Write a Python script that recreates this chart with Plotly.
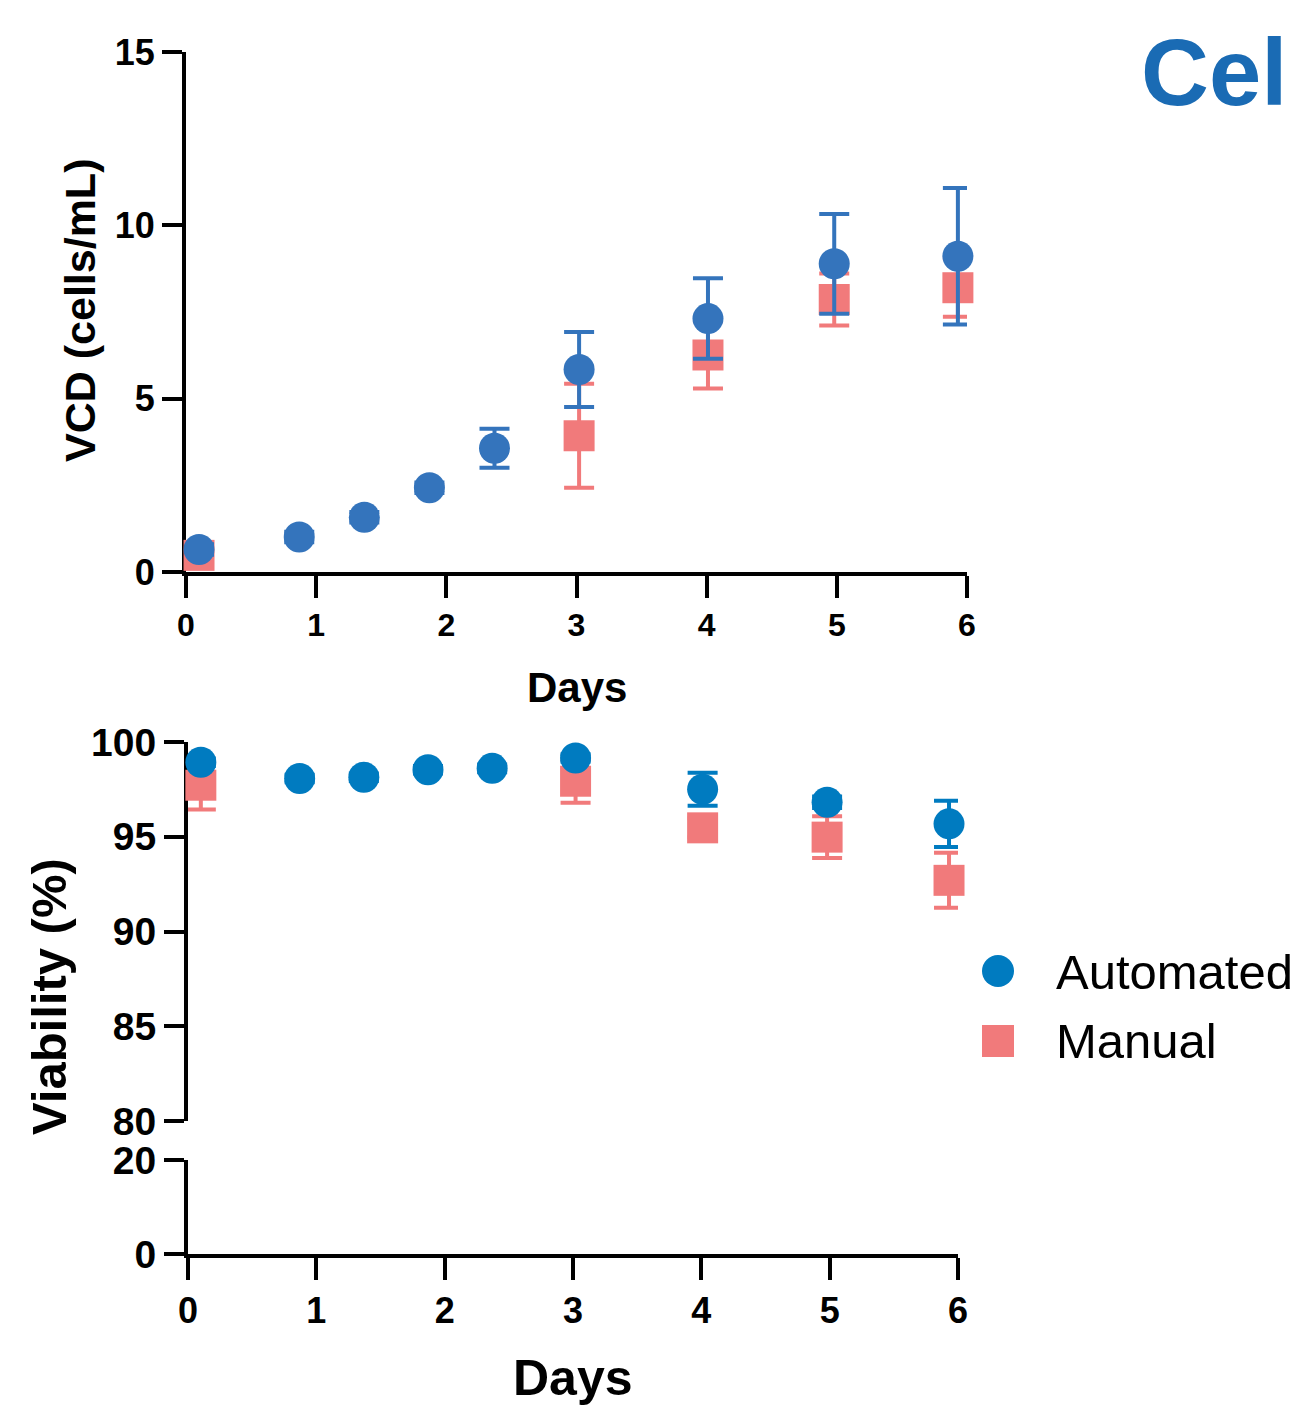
import plotly.graph_objects as go

W, H = 1294, 1412

# ---------------- data ----------------
days_auto = [0.10, 0.87, 1.37, 1.87, 2.37, 3.02, 4.01, 4.98, 5.93]
vcd_auto = [0.65, 1.01, 1.58, 2.43, 3.57, 5.84, 7.31, 8.89, 9.11]
vcd_auto_err = [0.15, 0.15, 0.15, 0.15, 0.56, 1.08, 1.16, 1.44, 1.97]

days_man = [0.10, 3.02, 4.01, 4.98, 5.93]
vcd_man = [0.48, 3.93, 6.26, 7.86, 8.20]
vcd_man_err = [0.20, 1.50, 0.97, 0.75, 0.84]

via_auto = [98.93, 98.07, 98.14, 98.54, 98.61, 99.16, 97.51, 96.82, 95.68]
via_auto_err = [0.2, 0.2, 0.2, 0.2, 0.2, 0.2, 0.87, 0.3, 1.22]
via_man = [97.72, 97.93, 95.47, 94.98, 92.70]
via_man_err = [1.28, 1.14, 0.5, 1.10, 1.45]

x_ticks = [0, 1, 2, 3, 4, 5, 6]
vcd_ticks = [0, 5, 10, 15]
via_ticks_hi = [80, 85, 90, 95, 100]
via_ticks_lo = [0, 20]

BLUE_TOP = "#3474BC"
BLUE_BOT = "#007BC0"
PINK = "#F17A7B"
TITLE_BLUE = "#1A6BB4"
FONT = "Liberation Sans"


def px(x):
    return x / W


def py(y):
    return 1 - y / H


fig = go.Figure()

ERR = dict(thickness=4, width=15)

# top panel
fig.add_trace(go.Scatter(
    x=days_man, y=vcd_man, mode="markers", xaxis="x", yaxis="y",
    marker=dict(symbol="square", size=31, color=PINK),
    error_y=dict(type="data", array=vcd_man_err, color=PINK, **ERR),
    cliponaxis=False, showlegend=False))
fig.add_trace(go.Scatter(
    x=days_auto, y=vcd_auto, mode="markers", xaxis="x", yaxis="y",
    marker=dict(symbol="circle", size=31, color=BLUE_TOP),
    error_y=dict(type="data", array=vcd_auto_err, color=BLUE_TOP, **ERR),
    cliponaxis=False, showlegend=False))

# bottom panel (upper segment)
fig.add_trace(go.Scatter(
    x=days_man, y=via_man, mode="markers", xaxis="x3", yaxis="y2",
    marker=dict(symbol="square", size=31, color=PINK),
    error_y=dict(type="data", array=via_man_err, color=PINK, **ERR),
    cliponaxis=False, showlegend=False))
fig.add_trace(go.Scatter(
    x=days_auto, y=via_auto, mode="markers", xaxis="x3", yaxis="y2",
    marker=dict(symbol="circle", size=31, color=BLUE_BOT),
    error_y=dict(type="data", array=via_auto_err, color=BLUE_BOT, **ERR),
    cliponaxis=False, showlegend=False))
# bottom panel (lower segment) - empty trace to show axes
fig.add_trace(go.Scatter(x=[None], y=[None], xaxis="x2", yaxis="y3",
                         mode="markers", showlegend=False))


def ax(**kw):
    d = dict(showline=True, linewidth=4, linecolor="black",
             ticks="outside", ticklen=20, tickwidth=4, tickcolor="black",
             showgrid=False, zeroline=False, layer="below traces",
             fixedrange=True, automargin=False)
    d.update(kw)
    return d


fig.update_layout(
    template="none",
    width=W, height=H,
    margin=dict(l=0, r=0, t=0, b=0, pad=0, autoexpand=False),
    paper_bgcolor="white", plot_bgcolor="rgba(0,0,0,0)",
    showlegend=False,
    font=dict(family=FONT, color="black"),
    xaxis=ax(domain=[px(186), px(967)], range=[0, 6], anchor="y",
             tickvals=x_ticks, ticktext=[str(t) for t in x_ticks],
             tickfont=dict(size=32, weight="bold"), ticklen=22,
             ticklabelstandoff=0),
    yaxis=ax(domain=[py(572), py(52)], range=[0, 15], anchor="x",
             tickvals=vcd_ticks, ticktext=[str(t) for t in vcd_ticks],
             tickfont=dict(size=36, weight="bold")),
    xaxis2=ax(domain=[px(188), px(958)], range=[0, 6], anchor="y3",
              tickvals=x_ticks, ticktext=[str(t) for t in x_ticks],
              tickfont=dict(size=36, weight="bold"), ticklen=22,
              ticklabelstandoff=0),
    xaxis3=dict(domain=[px(188), px(958)], range=[0, 6], anchor="y2",
                visible=False, fixedrange=True),
    yaxis2=ax(domain=[py(1121), py(742)], range=[80, 100], anchor="x3",
              tickvals=via_ticks_hi, ticktext=[str(t) for t in via_ticks_hi],
              tickfont=dict(size=39, weight="bold")),
    yaxis3=ax(domain=[py(1254), py(1160)], range=[0, 20], anchor="x2",
              tickvals=via_ticks_lo, ticktext=[str(t) for t in via_ticks_lo],
              tickfont=dict(size=39, weight="bold")),
)

annotations = [
    dict(text="VCD (cells/mL)", x=px(80), y=py(311), textangle=-90,
         font=dict(size=43, weight="bold")),
    dict(text="Days", x=px(577), y=py(688), font=dict(size=42, weight="bold")),
    dict(text="Viability (%)", x=px(49), y=py(997), textangle=-90,
         font=dict(size=49, weight="bold")),
    dict(text="Days", x=px(573), y=py(1378), font=dict(size=50, weight="bold")),
    dict(text="Automated", x=px(1054), y=py(972), xanchor="left",
         font=dict(size=49)),
    dict(text="Manual", x=px(1054), y=py(1041), xanchor="left",
         font=dict(size=49)),
    dict(text="Cel", x=px(1139), y=py(72), xanchor="left",
         font=dict(size=94, weight="bold", color=TITLE_BLUE)),
]
for a in annotations:
    a.setdefault("xanchor", "center")
    a.setdefault("yanchor", "middle")
    a.update(xref="paper", yref="paper", showarrow=False)
    a["font"].setdefault("family", FONT)
    a["font"].setdefault("color", "black")
fig.update_layout(annotations=annotations)

# legend symbols
fig.update_layout(shapes=[
    dict(type="circle", xref="paper", yref="paper",
         x0=px(982), x1=px(1014), y0=py(987), y1=py(955),
         fillcolor=BLUE_BOT, line=dict(width=0)),
    dict(type="rect", xref="paper", yref="paper",
         x0=px(982), x1=px(1014), y0=py(1057), y1=py(1025),
         fillcolor=PINK, line=dict(width=0)),
])

fig.write_html(
    "out.html",
    config={"displayModeBar": False},
    post_script="document.body.style.margin='0px';document.body.style.overflow='hidden';",
)
